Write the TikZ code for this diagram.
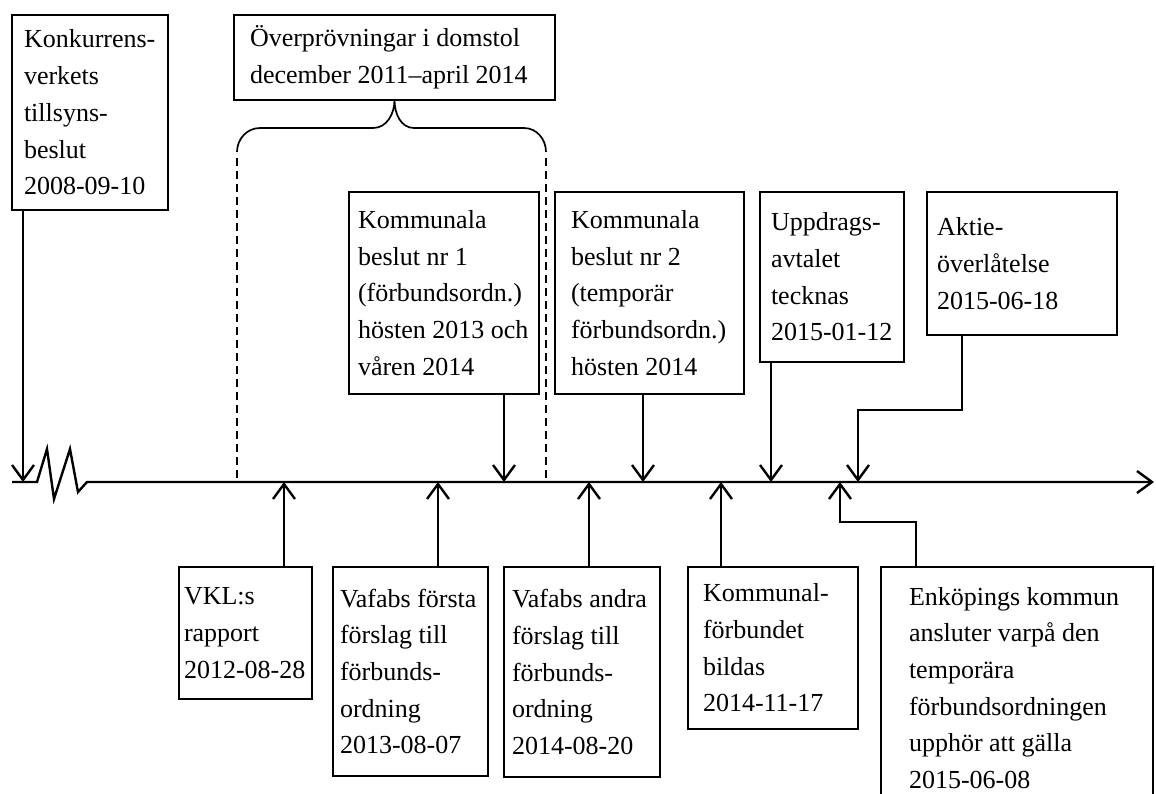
\documentclass[tikz,border=0pt]{standalone}
\usepackage{fontspec}
\setmainfont{Liberation Serif}
\usetikzlibrary{positioning,arrows.meta}

\begin{document}
\begin{tikzpicture}[%
    x=1pt, y=-1pt,              % one unit is one pixel, y runs downwards
    >={Straight Barb[length=15pt,width=22pt]}, % open arrow heads
    font=\fontsize{26}{36.7}\selectfont,
    ]
% -------------------------------------------------
% Box and line styles
\tikzset{
  box/.style={draw, line width=1.8pt, align=flush left, anchor=north west,
    inner ysep=4pt, outer sep=0pt,
    execute at begin node={\hyphenpenalty=10000\exhyphenpenalty=10000}},
  norm/.style={->, line width=2.4pt},
  axis/.style={->, line width=2.4pt},
  brace/.style={line width=1.7pt},
  period/.style={line width=1.7pt, dash pattern=on 8pt off 5pt}
}
\useasboundingbox (0,0) rectangle (1156,793);
% -------------------------------------------------
% Points on the time line
\coordinate (ax0) at (12,482);
\coordinate (ax1) at (1154,482);
\coordinate (tK) at (23,482);
\coordinate (bL) at (237,482);
\coordinate (tVKL) at (284,482);
\coordinate (tV1) at (438,482);
\coordinate (tB1) at (504,482);
\coordinate (bR) at (546,482);
\coordinate (tV2) at (589,482);
\coordinate (tB2) at (643,482);
\coordinate (tKF) at (721,482);
\coordinate (tU) at (771,482);
\coordinate (tE) at (840,482);
\coordinate (tA) at (858,482);

% Boxes above the line
\node [box, inner xsep=12pt, text width=132pt, minimum height=195pt]
  (konk) at (12,15)
  {Konkurrens-\\verkets\\tillsyns-\\beslut\\2008-09-10};
\node [box, inner xsep=16pt, text width=289pt, minimum height=85pt]
  (over) at (234,15)
  {Överprövningar i domstol\\december 2011–april 2014};
\node [box, inner xsep=9pt, text width=172pt, minimum height=202pt]
  (besl1) at (349,192)
  {Kommunala\\beslut nr 1\\(förbundsordn.)\\hösten 2013 och\\våren 2014};
\node [box, inner xsep=16pt, text width=157pt, minimum height=202pt,
  right=16pt of besl1.north east, anchor=north west] (besl2)
  {Kommunala\\beslut nr 2\\(temporär\\förbundsordn.)\\hösten 2014};
\node [box, inner xsep=11pt, text width=122pt, minimum height=170pt,
  right=16pt of besl2.north east, anchor=north west] (upp)
  {Uppdrags-\\avtalet\\tecknas\\2015-01-12};
\node [box, inner xsep=10pt, text width=170pt, minimum height=143pt,
  right=23pt of upp.north east, anchor=north west] (akt)
  {Aktie-\\överlåtelse\\2015-06-18};

% Boxes below the line
\node [box, inner xsep=5pt, text width=123pt, minimum height=132pt]
  (vkl) at (179,567)
  {VKL:s\\rapport\\2012-08-28};
\node [box, inner xsep=7pt, text width=141pt, minimum height=209pt,
  right=21pt of vkl.north east, anchor=north west] (vaf1)
  {Vafabs första\\förslag till\\förbunds-\\ordning\\2013-08-07};
\node [box, inner xsep=8pt, text width=140pt, minimum height=210pt,
  right=16pt of vaf1.north east, anchor=north west] (vaf2)
  {Vafabs andra\\förslag till\\förbunds-\\ordning\\2014-08-20};
\node [box, inner xsep=15pt, text width=140pt, minimum height=162pt,
  right=28pt of vaf2.north east, anchor=north west] (kf)
  {Kommunal-\\förbundet\\bildas\\2014-11-17};
\node [box, inner xsep=28pt, text width=216pt, minimum height=242pt,
  right=23pt of kf.north east, anchor=north west] (enk)
  {Enköpings kommun\\ansluter varpå den\\temporära\\förbundsordningen\\upphör att gälla\\2015-06-08};

% -------------------------------------------------
% The time line, broken near its start
\draw[axis] (ax0) -- (37,482) -- (47,449) -- (54,499) -- (70,449)
  -- (78,492) -- (87,482) -- (ax1);

% Brace over the court period, dashed down to the line
\draw[brace] (237,152) to[out=90,in=180] (260,128) -- (373,128)
  to[out=0,in=-90] (over.south) to[out=-90,in=180] (414,128)
  -- (524,128) to[out=0,in=90] (546,152);
\draw[period] (237,158) -- (bL);
\draw[period] (546,158) -- (bR);

% Arrows from above
\draw[norm] (konk.south -| tK) -- (tK);   %2008-09-10
\draw[norm] (besl1.south -| tB1) -- (tB1); %beslut nr 1
\draw[norm] (besl2.south -| tB2) -- (tB2); %beslut nr 2
\draw[norm] (upp.south -| tU) -- (tU);     %2015-01-12
\draw[norm] ([xshift=35pt]akt.south west) |- (tA |- 0,410) -- (tA); %2015-06-18

% Arrows from below
\draw[norm] (vkl.north -| tVKL) -- (tVKL); %2012-08-28
\draw[norm] (vaf1.north -| tV1) -- (tV1);  %2013-08-07
\draw[norm] (vaf2.north -| tV2) -- (tV2);  %2014-08-20
\draw[norm] (kf.north -| tKF) -- (tKF);    %2014-11-17
\draw[norm] ([xshift=35pt]enk.north west) |- (tE |- 0,522) -- (tE); %2015-06-08

% -------------------------------------------------
\end{tikzpicture}
\end{document}
